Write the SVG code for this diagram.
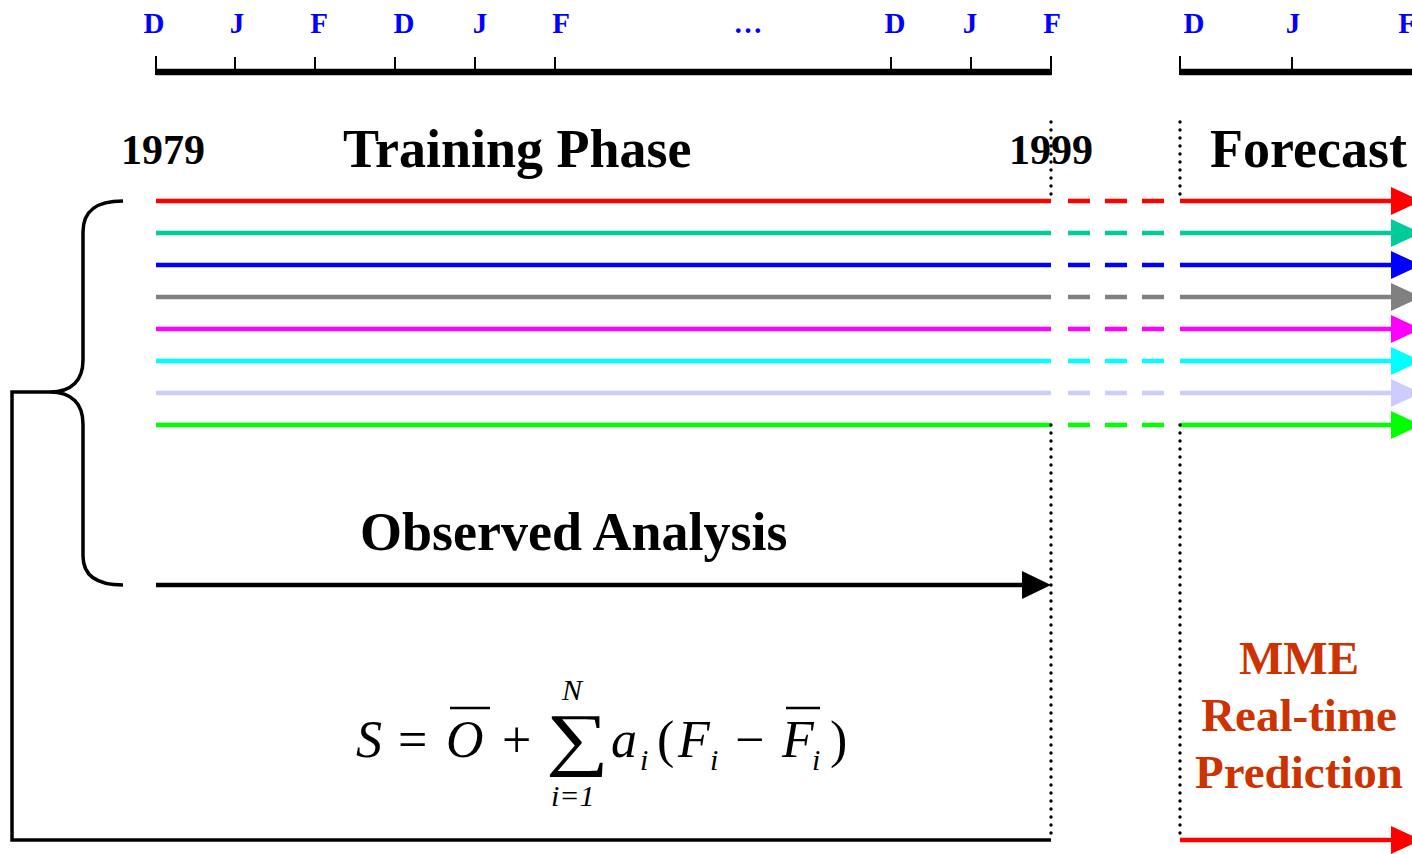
<svg xmlns="http://www.w3.org/2000/svg" xmlns:xlink="http://www.w3.org/1999/xlink" width="1412" height="854" viewBox="0 0 1412 854">
<style>
.mon{font-family:"Liberation Serif",serif;font-weight:bold;font-size:29px;fill:#0000ff;text-anchor:middle}
.big{font-family:"Liberation Serif",serif;font-weight:bold;font-size:54px;fill:#000}
.yr{font-family:"Liberation Serif",serif;font-weight:bold;font-size:42px;fill:#000;text-anchor:middle}
.mme{font-family:"Liberation Serif",serif;font-weight:bold;font-size:47px;fill:#cc3300;text-anchor:middle}
.m{font-family:"Liberation Serif",serif;font-style:italic;font-size:52px;fill:#000}
.mr{font-family:"Liberation Serif",serif;font-size:52px;fill:#000}
.ms{font-family:"Liberation Serif",serif;font-style:italic;font-size:30px;fill:#000}
.axis{stroke:#000;stroke-width:6.5;fill:none}
.tick{stroke:#000;stroke-width:2;fill:none}
.ln{stroke-width:4.5;fill:none}
.dash{stroke-width:4.5;fill:none;stroke-dasharray:22 15}
.dot{stroke:#000;stroke-width:3.4;stroke-linecap:round;stroke-dasharray:0 8;fill:none}
.blk{stroke:#000;stroke-width:3.5;fill:none}
</style>
<defs>
<path id="ah" d="M0,-14 L30,0 L0,14 Z"/>
</defs>
<rect width="1412" height="854" fill="#fff"/>

<g id="timeline">
<line class="axis" x1="156" y1="72" x2="1051" y2="72"/>
<line class="axis" x1="1180" y1="72" x2="1412" y2="72"/>
<path class="tick" d="M156,56V75 M235,57V72 M315,57V72 M395,57V72 M475,57V72 M555,57V72 M891,57V72 M971,57V72 M1051,56V75 M1180,56V75 M1292,57V72"/>
<text class="mon" x="154" y="33">D</text>
<text class="mon" x="237" y="33">J</text>
<text class="mon" x="319" y="33">F</text>
<text class="mon" x="404" y="33">D</text>
<text class="mon" x="480" y="33">J</text>
<text class="mon" x="561" y="33">F</text>
<text class="mon" x="748" y="33">…</text>
<text class="mon" x="895" y="33">D</text>
<text class="mon" x="970" y="33">J</text>
<text class="mon" x="1052" y="33">F</text>
<text class="mon" x="1194" y="33">D</text>
<text class="mon" x="1293" y="33">J</text>
<text class="mon" x="1407" y="33">F</text>
</g>

<g id="labels">
<text class="yr" x="163" y="164">1979</text>
<text class="big" x="343" y="167">Training Phase</text>
<text class="yr" x="1051" y="164">1999</text>
<text class="big" x="1210" y="167">Forecast</text>
<text class="big" x="360" y="550">Observed Analysis</text>
</g>

<g id="mme">
<text class="mme" x="1299" y="674">MME</text>
<text class="mme" x="1299" y="731">Real-time</text>
<text class="mme" x="1299" y="788">Prediction</text>
</g>

<g id="brace">
<path class="blk" d="M123,201 C97,201 83,210 83,232 L83,360 C83,380 72,392 50,392 C72,392 83,404 83,424 L83,556 C83,576 97,585 123,585"/>
</g>

<g id="connectors">
<path class="ln" stroke="#ff0000" d="M156,201H1051 M1180,201H1395"/>
<path class="dash" stroke="#ff0000" d="M1068,201H1165"/>
<use xlink:href="#ah" x="1391" y="201" fill="#ff0000"/>
<path class="ln" stroke="#00cc99" d="M156,233H1051 M1180,233H1395"/>
<path class="dash" stroke="#00cc99" d="M1068,233H1165"/>
<use xlink:href="#ah" x="1391" y="233" fill="#00cc99"/>
<path class="ln" stroke="#0000ff" d="M156,265H1051 M1180,265H1395"/>
<path class="dash" stroke="#0000ff" d="M1068,265H1165"/>
<use xlink:href="#ah" x="1391" y="265" fill="#0000ff"/>
<path class="ln" stroke="#808080" d="M156,297H1051 M1180,297H1395"/>
<path class="dash" stroke="#808080" d="M1068,297H1165"/>
<use xlink:href="#ah" x="1391" y="297" fill="#808080"/>
<path class="ln" stroke="#ff00ff" d="M156,329H1051 M1180,329H1395"/>
<path class="dash" stroke="#ff00ff" d="M1068,329H1165"/>
<use xlink:href="#ah" x="1391" y="329" fill="#ff00ff"/>
<path class="ln" stroke="#00ffff" d="M156,361H1051 M1180,361H1395"/>
<path class="dash" stroke="#00ffff" d="M1068,361H1165"/>
<use xlink:href="#ah" x="1391" y="361" fill="#00ffff"/>
<path class="ln" stroke="#ccccff" d="M156,393H1051 M1180,393H1395"/>
<path class="dash" stroke="#ccccff" d="M1068,393H1165"/>
<use xlink:href="#ah" x="1391" y="393" fill="#ccccff"/>
<path class="ln" stroke="#00ff00" d="M156,425H1051 M1180,425H1395"/>
<path class="dash" stroke="#00ff00" d="M1068,425H1165"/>
<use xlink:href="#ah" x="1391" y="425" fill="#00ff00"/>

<path class="ln" stroke="#000" d="M156,585H1025"/>
<path d="M1022,571 L1051,585 L1022,599 Z" fill="#000"/>

<path class="blk" d="M50,392H12V840H1051"/>
<path class="ln" stroke="#ff0000" d="M1180,840H1395"/>
<use xlink:href="#ah" x="1391" y="840" fill="#ff0000"/>

<path class="dot" d="M1051,122V200 M1051,425V840 M1180,122V200 M1180,425V840"/>
</g>

<g id="formula">
<text class="m" x="356" y="757">S</text>
<text class="mr" x="398" y="757">=</text>
<text class="m" x="446" y="757">O</text>
<line x1="450" y1="708" x2="490" y2="708" stroke="#000" stroke-width="2.5"/>
<text class="mr" x="502" y="757">+</text>
<text class="mr" transform="translate(546,762) scale(1.05,0.83)" style="font-size:84px">∑</text>
<text class="ms" x="562" y="700">N</text>
<text class="ms" x="551" y="806">i=1</text>
<text class="m" x="611" y="757">a</text>
<text class="ms" x="640" y="770">i</text>
<text class="mr" x="657" y="757">(</text>
<text class="m" x="678" y="757">F</text>
<text class="ms" x="710" y="770">i</text>
<text class="mr" x="735" y="757">−</text>
<text class="m" x="782" y="757">F</text>
<line x1="786" y1="708" x2="820" y2="708" stroke="#000" stroke-width="2.5"/>
<text class="ms" x="812" y="770">i</text>
<text class="mr" x="830" y="757">)</text>
</g>
</svg>
